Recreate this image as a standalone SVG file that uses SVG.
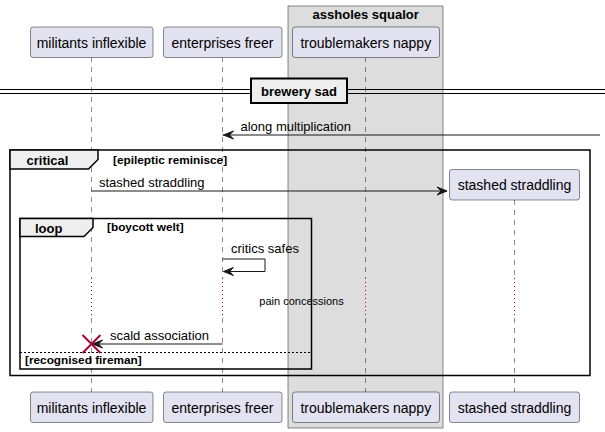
<svg xmlns="http://www.w3.org/2000/svg" width="605" height="432" viewBox="0 0 605 432">
<style>
.part{fill:#E2E2F0;stroke:#181818;stroke-width:0.5}
.ptxt{font-family:"Liberation Sans",Arial,sans-serif;font-size:14px;fill:#000;text-anchor:middle}
.life{stroke:#181818;stroke-width:0.5;stroke-dasharray:5,5;fill:none}
.delay{stroke:#A80036;stroke-width:1;stroke-dasharray:1,3;fill:none}
.msg{stroke:#181818;stroke-width:1;fill:none}
.mtxt{font-family:"Liberation Sans",Arial,sans-serif;font-size:13px;fill:#000}
.btxt{font-family:"Liberation Sans",Arial,sans-serif;font-size:13px;font-weight:bold;fill:#000}
.ctxt{font-family:"Liberation Sans",Arial,sans-serif;font-size:11.8px;font-weight:bold;fill:#000}
.frame{fill:none;stroke:#000;stroke-width:1.5}
.tab{fill:#EEEEEE;stroke:#000;stroke-width:1.5}
.head{fill:#181818;stroke:#181818;stroke-width:1}
</style>
<g id="box-assholes-squalor">
<rect x="288" y="6" width="155" height="422" fill="#DDDDDD" stroke="#181818" stroke-width="0.5"/>
<text class="btxt" x="365.7" y="19" text-anchor="middle">assholes squalor</text>
</g>
<g id="lifelines">
<line class="life" x1="91.5" y1="57" x2="91.5" y2="278"/>
<line class="delay" x1="91.5" y1="278" x2="91.5" y2="318"/>
<line class="life" x1="91.5" y1="318" x2="91.5" y2="392"/>
<line class="life" x1="222.5" y1="57" x2="222.5" y2="278"/>
<line class="delay" x1="222.5" y1="278" x2="222.5" y2="318"/>
<line class="life" x1="222.5" y1="318" x2="222.5" y2="392"/>
<line class="life" x1="365.5" y1="57" x2="365.5" y2="278"/>
<line class="delay" x1="365.5" y1="278" x2="365.5" y2="318"/>
<line class="life" x1="365.5" y1="318" x2="365.5" y2="392"/>
<line class="life" x1="514.5" y1="200" x2="514.5" y2="278"/>
<line class="delay" x1="514.5" y1="278" x2="514.5" y2="318"/>
<line class="life" x1="514.5" y1="318" x2="514.5" y2="392"/>
</g>
<g id="divider-brewery-sad">
<line x1="0" y1="89.5" x2="605" y2="89.5" stroke="#000" stroke-width="1"/>
<line x1="0" y1="93.5" x2="605" y2="93.5" stroke="#000" stroke-width="1"/>
<rect x="251" y="78.5" width="96" height="24.5" fill="#EEEEEE" stroke="#000" stroke-width="2"/>
<text class="btxt" x="299" y="96" text-anchor="middle">brewery sad</text>
</g>
<g id="fragment-critical">
<rect class="frame" x="10" y="150" width="580" height="225.5"/>
<polygon class="tab" points="10,150 98,150 98,159.5 88.5,169 10,169"/>
<text class="btxt" x="26.5" y="165">critical</text>
<text class="ctxt" x="113" y="163.5">[epileptic reminisce]</text>
</g>
<g id="fragment-loop">
<rect class="frame" x="20" y="218.5" width="291.5" height="150.5"/>
<polygon class="tab" points="20,218.5 93,218.5 93,227.5 84,236.5 20,236.5"/>
<text class="btxt" x="35" y="232.5">loop</text>
<text class="ctxt" x="107" y="231">[boycott welt]</text>
<line x1="20" y1="352.5" x2="311.5" y2="352.5" stroke="#000" stroke-width="1" stroke-dasharray="2,2"/>
<text class="ctxt" x="25" y="364">[recognised fireman]</text>
</g>
<g id="connectors">
<line class="msg" x1="222.5" y1="135" x2="600" y2="135"/>
<polygon class="head" points="233.5,131 223.5,135 233.5,139 229.5,135"/>
<text class="mtxt" x="240.5" y="131">along multiplication</text>
<line class="msg" x1="91.5" y1="191" x2="447" y2="191"/>
<polygon class="head" points="437,187 447,191 437,195 441,191"/>
<text class="mtxt" x="99" y="187">stashed straddling</text>
<polyline class="msg" points="222.5,259 265,259 265,271.5 223.5,271.5"/>
<polygon class="head" points="233.5,267.5 223.5,271.5 233.5,275.5 229.5,271.5"/>
<text class="mtxt" x="231" y="253">critics safes</text>
<text x="301.5" y="305" font-family="'Liberation Sans',Arial,sans-serif" font-size="11" text-anchor="middle">pain concessions</text>
<line class="msg" x1="222.5" y1="344" x2="92.5" y2="344"/>
<polygon class="head" points="102.5,340 92.5,344 102.5,348 98.5,344"/>
<text class="mtxt" x="110" y="340">scald association</text>
<line x1="82.5" y1="335" x2="100.5" y2="353" stroke="#A80036" stroke-width="2"/>
<line x1="82.5" y1="353" x2="100.5" y2="335" stroke="#A80036" stroke-width="2"/>
</g>
<g id="p-militants-inflexible">
<rect class="part" x="30.5" y="27" width="122.5" height="30.5" rx="2.5"/>
<text class="ptxt" x="91.5" y="47.5">militants inflexible</text>
<rect class="part" x="30.5" y="392" width="122.5" height="30.5" rx="2.5"/>
<text class="ptxt" x="91.5" y="412.5">militants inflexible</text>
</g>
<g id="p-enterprises-freer">
<rect class="part" x="163.5" y="27" width="118.5" height="30.5" rx="2.5"/>
<text class="ptxt" x="222.5" y="47.5">enterprises freer</text>
<rect class="part" x="163.5" y="392" width="118.5" height="30.5" rx="2.5"/>
<text class="ptxt" x="222.5" y="412.5">enterprises freer</text>
</g>
<g id="p-troublemakers-nappy">
<rect class="part" x="292.5" y="27" width="147" height="30.5" rx="2.5"/>
<text class="ptxt" x="365.8" y="47.5">troublemakers nappy</text>
<rect class="part" x="292.5" y="392" width="147" height="30.5" rx="2.5"/>
<text class="ptxt" x="365.8" y="412.5">troublemakers nappy</text>
</g>
<g id="p-stashed-straddling">
<rect class="part" x="449.5" y="169.5" width="130" height="30.5" rx="2.5"/>
<text class="ptxt" x="514.5" y="190">stashed straddling</text>
<rect class="part" x="449.5" y="392" width="130" height="30.5" rx="2.5"/>
<text class="ptxt" x="514.5" y="412.5">stashed straddling</text>
</g>
</svg>
